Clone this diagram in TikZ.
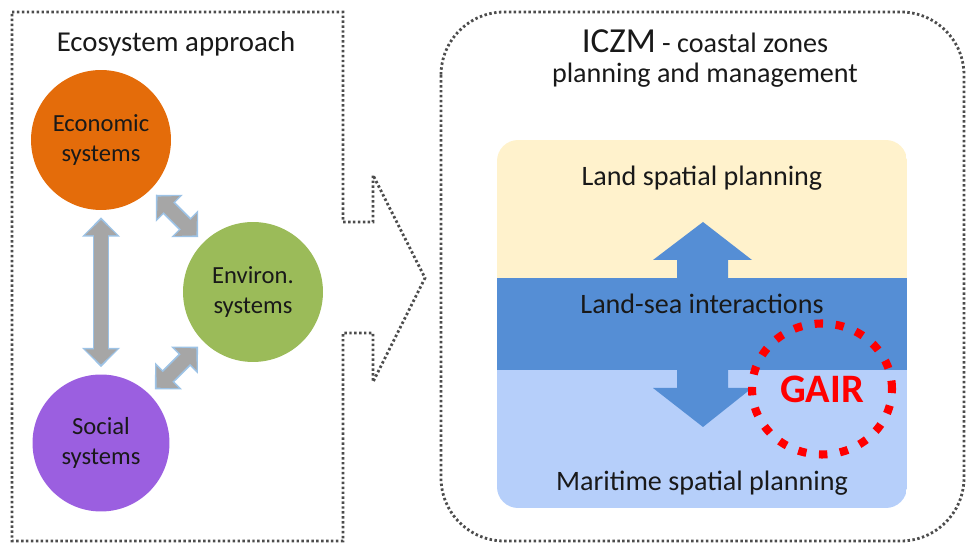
\documentclass[tikz,border=0pt]{standalone}
\usepackage{fontspec}
\setmainfont{Carlito}
\usetikzlibrary{arrows.meta,shapes.geometric}
\definecolor{ecoorange}{HTML}{E46C0A}
\definecolor{envgreen}{HTML}{9BBB59}
\definecolor{socpurple}{HTML}{9B5FE0}
\definecolor{arrowgray}{HTML}{A6A6A6}
\definecolor{arrowedge}{HTML}{9DC3E6}
\definecolor{landyellow}{HTML}{FFF2CC}
\definecolor{seablue}{HTML}{558ED5}
\definecolor{sealight}{HTML}{B6CFFA}
\definecolor{gairred}{HTML}{FF0000}
\tikzset{
  sys/.style={circle, minimum size=2.8cm, align=center, text=black!90, font=\fontsize{14}{17}\selectfont},
  frame/.style={draw=black!70, line width=1.6pt, dash pattern=on 1.4pt off 1.4pt},
  title/.style={anchor=base, text=black!90, font=\fontsize{16}{19}\selectfont},
  link/.style={line width=9.5pt, draw=arrowedge, {Triangle[length=11pt,width=21pt]}-{Triangle[length=11pt,width=21pt]}, shorten <=4pt, shorten >=4pt},
  linkin/.style={line width=7.5pt, draw=arrowgray, {Triangle[length=8.6pt,width=17.5pt]}-{Triangle[length=8.6pt,width=17.5pt]}, shorten <=5.5pt, shorten >=5.5pt}
}
\begin{document}
\begin{tikzpicture}[x=0.02cm, y=-0.02cm]
\useasboundingbox (0,0) rectangle (968,546);
% left frame with its arrow
\draw[frame] (12,12) -- (343,12) -- (343,222) -- (373,222) -- (373,175) -- (425,278)
  -- (373,382) -- (373,333) -- (343,333) -- (343,541) -- (12,541) -- cycle;
\node[title, font=\fontsize{16.4}{19}\selectfont] (ecotitle) at (176,52) {Ecosystem approach};
\node[sys, fill=ecoorange] (eco) at (101,140) {Economic\\systems};
\node[sys, fill=envgreen] (env) at (253,292) {Environ.\\systems};
\node[sys, fill=socpurple, minimum size=2.74cm] (soc) at (101,443) {Social\\systems};
\foreach \a/\b in {eco/soc, eco/env, soc/env} {
  \draw[link] (\a) -- (\b);
  \draw[linkin] (\a) -- (\b);
}
% right frame
\draw[frame, rounded corners=36pt] (441,12) rectangle (964,541);
\node[title] (iczm) at (705,53) {{\fontsize{20}{24}\selectfont ICZM} - coastal zones};
\node[title] (plan) at (705,83) {planning and management};
\begin{scope}
\clip[rounded corners=12pt] (497,140) rectangle (907,508);
\fill[landyellow] (497,140) rectangle (907,278);
\fill[seablue] (497,278) rectangle (907,370);
\fill[sealight] (497,370) rectangle (907,508);
\end{scope}
\fill[seablue] (703,222) -- (752,260) -- (728,260) -- (728,388) -- (752,388) -- (703,427)
  -- (653,388) -- (677,388) -- (677,260) -- (653,260) -- cycle;
\node[title] (land) at (702,186) {Land spatial planning};
\node[title] (lsi) at (702,314) {Land-sea interactions};
\node[title] (msp) at (702,491) {Maritime spatial planning};
\node[ellipse, draw=gairred, line width=4.6pt, dash pattern=on 4.8pt off 7.2pt,
  minimum width=2.8cm, minimum height=2.62cm, text=gairred,
  font=\bfseries\fontsize{23}{27}\selectfont] (gair) at (822,389) {GAIR};
\end{tikzpicture}
\end{document}
